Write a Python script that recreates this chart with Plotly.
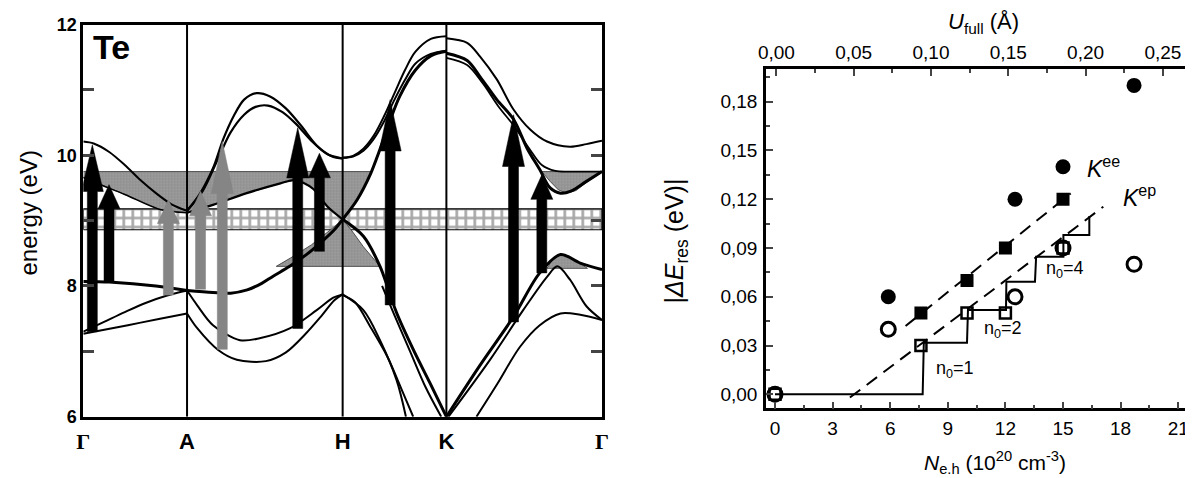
import plotly.graph_objects as go

# ======================= LEFT PANEL DATA (Te band structure) =======================
path_k = [0.0, 1.0, 2.5, 3.5, 5.0]
path_labels = ["Γ", "A", "H", "K", "Γ"]
energy_tickvals = [6, 7, 8, 9, 10, 11, 12]
energy_ticktext = ["6", "", "8", "", "10", "", "12"]

# band lines (k along path, energy in eV)
ga1_k = [0.0, 0.1, 0.25, 0.4, 0.55, 0.7, 0.85, 1.0]
ga1_e = [10.21, 10.18, 10.05, 9.85, 9.62, 9.42, 9.25, 9.15]
gad_k = [0.0, 0.15, 0.4, 0.74, 1.0]
gad_e = [9.66, 9.56, 9.4, 9.17, 9.12]
ga3_k = [0.0, 0.25, 0.7, 1.0]
ga3_e = [8.07, 8.06, 8.0, 7.93]
ga4_k = [0.0, 0.2, 0.4, 0.6, 0.8, 1.0]
ga4_e = [7.3, 7.45, 7.6, 7.74, 7.85, 7.93]
ga5_k = [0.0, 0.43, 0.74, 1.0]
ga5_e = [7.27, 7.40, 7.50, 7.58]

ah1_k = [1.0, 1.12, 1.25, 1.35, 1.45, 1.55, 1.67, 1.8, 1.95, 2.1, 2.25, 2.4, 2.5]
ah1_e = [9.15, 9.4, 9.8, 10.25, 10.6, 10.85, 10.95, 10.9, 10.72, 10.45, 10.15, 9.98, 9.95]
ah2_k = [1.0, 1.15, 1.3, 1.42, 1.55, 1.66, 1.78, 1.92, 2.05, 2.2, 2.35, 2.5]
ah2_e = [9.15, 9.45, 9.95, 10.35, 10.62, 10.74, 10.76, 10.66, 10.48, 10.22, 10.02, 9.95]
ahd_k = [1.0, 1.25, 1.575, 1.9, 2.03, 2.12, 2.22, 2.35, 2.5]
ahd_e = [9.12, 9.24, 9.42, 9.57, 9.62, 9.58, 9.48, 9.22, 9.02]
ah3_k = [1.0, 1.25, 1.42, 1.58, 1.72, 1.83, 1.99, 2.15, 2.3, 2.42, 2.5]
ah3_e = [7.93, 7.9, 7.89, 7.94, 8.04, 8.15, 8.30, 8.48, 8.68, 8.86, 9.02]
ah4_k = [1.0, 1.1, 1.25, 1.51, 1.7, 1.99, 2.25, 2.41, 2.5]
ah4_e = [7.93, 7.7, 7.4, 7.17, 7.2, 7.35, 7.63, 7.82, 7.87]
ah5_k = [1.0, 1.1, 1.3, 1.48, 1.76, 1.95, 2.15, 2.3, 2.42, 2.5]
ah5_e = [7.58, 7.35, 7.02, 6.87, 6.85, 6.98, 7.28, 7.55, 7.78, 7.87]

hk1a_k = [2.5, 2.6, 2.7, 2.8, 2.9, 3.0, 3.1, 3.2, 3.35, 3.5]
hk1a_e = [9.96, 9.99, 10.1, 10.3, 10.6, 10.95, 11.3, 11.58, 11.78, 11.82]
hk1b_k = [2.5, 2.6, 2.7, 2.8, 2.9, 3.0, 3.1, 3.2, 3.35, 3.5]
hk1b_e = [9.96, 9.98, 10.07, 10.25, 10.52, 10.85, 11.15, 11.4, 11.55, 11.6]
hk2_k = [2.5, 2.64, 2.77, 2.85, 2.95, 3.05, 3.2, 3.35, 3.5]
hk2_e = [9.02, 9.32, 9.72, 10.05, 10.5, 10.9, 11.3, 11.52, 11.59]
hk3_k = [2.5, 2.7, 2.86, 2.94, 3.02, 3.18, 3.34, 3.5]
hk3_e = [9.02, 8.76, 8.30, 7.95, 7.59, 7.03, 6.52, 6.0]
hk3b_k = [2.88, 3.0, 3.15, 3.3, 3.45]
hk3b_e = [8.0, 7.55, 7.0, 6.45, 6.0]
hk4_k = [2.5, 2.7, 2.86, 3.02, 3.11]
hk4_e = [7.87, 7.63, 7.17, 6.56, 6.0]
hk5_k = [2.5, 2.62, 2.765, 2.93, 3.07, 3.18]
hk5_e = [7.86, 7.75, 7.38, 6.92, 6.41, 6.0]

kg1_k = [3.5, 3.7, 3.825, 3.986, 4.147, 4.31, 4.47, 4.69, 4.85, 5.0]
kg1_e = [11.79, 11.72, 11.51, 11.16, 10.70, 10.39, 10.21, 10.13, 10.17, 10.22]
kg2_k = [3.5, 3.7, 3.825, 3.986, 4.147, 4.28, 4.4, 4.5, 4.6, 4.7, 4.85, 5.0]
kg2_e = [11.56, 11.45, 11.2, 10.85, 10.55, 10.1, 9.78, 9.5, 9.42, 9.45, 9.6, 9.75]
kg3_k = [3.5, 3.7, 3.85, 4.0, 4.15, 4.3, 4.42, 4.55, 4.7, 5.0]
kg3_e = [11.49, 11.38, 11.1, 10.75, 10.45, 10.1, 9.85, 9.76, 9.75, 9.75]
kg4_k = [3.5, 3.825, 4.147, 4.4, 4.6, 4.79, 5.0]
kg4_e = [6.0, 6.79, 7.53, 8.2, 8.48, 8.35, 8.25]
kg5_k = [3.52, 3.92, 4.24, 4.47, 4.57, 4.69, 4.85, 5.0]
kg5_e = [6.0, 6.87, 7.63, 8.14, 8.30, 8.10, 7.69, 7.48]
kg6_k = [3.79, 3.99, 4.21, 4.40, 4.60, 4.79, 5.0]
kg6_e = [6.0, 6.5, 7.07, 7.40, 7.58, 7.56, 7.48]

# shaded (resonance) regions: outline k / E
shade1_k = [0.0, 2.78, 2.72, 2.64, 2.5, 2.35, 2.22, 2.12, 2.03, 1.9, 1.575, 1.25, 1.0, 0.74, 0.4, 0.15, 0.0]
shade1_e = [9.75, 9.75, 9.55, 9.32, 9.02, 9.22, 9.48, 9.58, 9.62, 9.57, 9.42, 9.24, 9.12, 9.17, 9.4, 9.56, 9.66]
shade2_k = [1.86, 2.0, 2.2, 2.4, 2.5, 2.6, 2.7, 2.8, 2.86, 1.86]
shade2_e = [8.30, 8.43, 8.63, 8.88, 9.02, 8.82, 8.6, 8.42, 8.30, 8.30]
shade3_k = [4.42, 5.0, 5.0, 4.88, 4.75, 4.66, 4.58, 4.5, 4.42]
shade3_e = [9.75, 9.75, 9.74, 9.62, 9.46, 9.42, 9.47, 9.6, 9.75]
shade4_k = [4.47, 4.53, 4.6, 4.68, 4.8, 4.86, 4.47]
shade4_e = [8.27, 8.42, 8.48, 8.45, 8.33, 8.27, 8.27]

# checkered band (gap region)
gap_k = [0.0, 5.0, 5.0, 0.0, 0.0]
gap_e = [8.86, 8.86, 9.18, 9.18, 8.86]

# transition arrows
arrow_k = [0.087, 0.248, 0.82, 1.13, 1.34, 2.067, 2.276, 2.958, 4.147, 4.42]
arrow_from = [7.30, 8.07, 7.86, 7.95, 7.03, 7.35, 8.53, 7.71, 7.45, 8.20]
arrow_to = [10.16, 9.55, 9.32, 9.45, 10.21, 10.42, 10.03, 10.85, 10.62, 9.70]
arrow_gray = [False, False, True, True, True, False, False, False, False, False]

# ======================= RIGHT PANEL DATA =======================
n_filled_circle = [5.9, 12.5, 15.0, 18.7]
de_filled_circle = [0.06, 0.12, 0.14, 0.19]
n_filled_square = [7.6, 10.0, 12.0, 15.0]
de_filled_square = [0.05, 0.07, 0.09, 0.12]
n_open_circle = [0.0, 5.9, 12.5, 15.0, 18.7]
de_open_circle = [0.0, 0.04, 0.06, 0.09, 0.08]
n_open_square = [0.0, 7.6, 10.0, 12.0, 15.0]
de_open_square = [0.0, 0.03, 0.05, 0.05, 0.09]
kee_n = [6.8, 15.4]
kee_de = [0.042, 0.1236]
kep_n = [3.9, 17.1]
kep_de = [-0.002, 0.1154]
stair_n = [0.0, 7.69, 7.75, 10.0, 10.05, 12.03, 12.05, 13.54, 13.6, 15.02, 15.02, 16.37, 16.37]
stair_de = [0.0, 0.0, 0.0317, 0.0317, 0.0518, 0.0518, 0.0693, 0.0693, 0.0846, 0.0846, 0.098, 0.098, 0.1097]

# ======================= FIGURE =======================
FONT = "Liberation Sans, Arial, sans-serif"
PAGE_OFF = 8                      # default body margin of the html page
W, H = 1193 - PAGE_OFF, 478 - PAGE_OFF
fig = go.Figure()


def px_x(p):
    return (p - PAGE_OFF) / W


def px_y(p):
    return (H - (p - PAGE_OFF)) / H


L_X0, L_X1 = 83.3, 602.0
k_per_px = (path_k[-1] - path_k[0]) / (L_X1 - L_X0)


def add_fill(k, e, fillcolor, linecolor, lw=1.0, pattern=None):
    fig.add_trace(go.Scatter(x=k, y=e, mode="lines", fill="toself", fillcolor=fillcolor,
                             fillpattern=pattern, line=dict(color=linecolor, width=lw),
                             hoverinfo="skip", showlegend=False, xaxis="x", yaxis="y"))


add_fill(gap_k, gap_e, "white", "black", 1.2,
         dict(shape="+", fgcolor="#4d4d4d", bgcolor="white", size=9, solidity=0.5))
for sk, se in [(shade1_k, shade1_e), (shade2_k, shade2_e), (shade3_k, shade3_e), (shade4_k, shade4_e)]:
    add_fill(sk, se, "#929292", "#505050", 1.0,
             dict(shape="+", fgcolor="#7a7a7a", bgcolor="#9c9c9c", size=3, solidity=0.35))

bands = [(ga1_k, ga1_e, 2.0), (gad_k, gad_e, 1.5), (ga3_k, ga3_e, 3.0), (ga4_k, ga4_e, 2.0),
         (ga5_k, ga5_e, 2.0), (ah1_k, ah1_e, 2.2), (ah2_k, ah2_e, 2.2), (ahd_k, ahd_e, 2.2),
         (ah3_k, ah3_e, 3.0), (ah4_k, ah4_e, 2.0), (ah5_k, ah5_e, 2.0),
         (hk1a_k, hk1a_e, 2.0), (hk1b_k, hk1b_e, 2.0), (hk2_k, hk2_e, 3.0), (hk3_k, hk3_e, 3.0),
         (hk3b_k, hk3b_e, 2.0), (hk4_k, hk4_e, 2.0), (hk5_k, hk5_e, 2.0),
         (kg1_k, kg1_e, 2.0), (kg2_k, kg2_e, 3.0), (kg3_k, kg3_e, 1.8), (kg4_k, kg4_e, 3.0),
         (kg5_k, kg5_e, 2.0), (kg6_k, kg6_e, 2.0)]
for bk, be, lw in bands:
    fig.add_trace(go.Scatter(x=bk, y=be, mode="lines",
                             line=dict(color="black", width=lw, shape="spline", smoothing=0.9),
                             hoverinfo="skip", showlegend=False, xaxis="x", yaxis="y"))

for kk in path_k[1:-1]:
    fig.add_trace(go.Scatter(x=[kk, kk], y=[energy_tickvals[0], energy_tickvals[-1]], mode="lines",
                             line=dict(color="black", width=2), hoverinfo="skip", showlegend=False,
                             xaxis="x", yaxis="y"))

SHAFT_HALF_PX, HEAD_HALF_PX, HEAD_FRAC = 5.0, 11.0, 0.25
for ak, a0, a1, g in zip(arrow_k, arrow_from, arrow_to, arrow_gray):
    sw = SHAFT_HALF_PX * k_per_px
    hw = HEAD_HALF_PX * k_per_px
    hb = a1 - HEAD_FRAC * (a1 - a0)
    xs = [ak - sw, ak - sw, ak - hw, ak, ak + hw, ak + sw, ak + sw, ak - sw]
    ys = [a0, hb, hb, a1, hb, hb, a0, a0]
    col = "#858585" if g else "black"
    fig.add_trace(go.Scatter(x=xs, y=ys, mode="lines", fill="toself", fillcolor=col,
                             line=dict(color=col, width=0.5), hoverinfo="skip", showlegend=False,
                             xaxis="x", yaxis="y"))

# ---------------- right panel traces ----------------
fig.add_trace(go.Scatter(x=stair_n, y=stair_de, mode="lines", line=dict(color="black", width=2),
                         showlegend=False, xaxis="x2", yaxis="y2"))
fig.add_trace(go.Scatter(x=kee_n, y=kee_de, mode="lines", line=dict(color="black", width=2, dash="13px,8px"),
                         showlegend=False, xaxis="x2", yaxis="y2"))
fig.add_trace(go.Scatter(x=kep_n, y=kep_de, mode="lines", line=dict(color="black", width=2, dash="13px,8px"),
                         showlegend=False, xaxis="x2", yaxis="y2"))
fig.add_trace(go.Scatter(x=n_open_square, y=de_open_square, mode="markers",
                         marker=dict(symbol="square-open", size=11, color="black", line=dict(width=2.5)),
                         showlegend=False, xaxis="x2", yaxis="y2"))
fig.add_trace(go.Scatter(x=n_open_circle, y=de_open_circle, mode="markers",
                         marker=dict(symbol="circle-open", size=14, color="black", line=dict(width=3)),
                         showlegend=False, xaxis="x2", yaxis="y2"))
fig.add_trace(go.Scatter(x=n_filled_square, y=de_filled_square, mode="markers",
                         marker=dict(symbol="square", size=13, color="black"),
                         showlegend=False, xaxis="x2", yaxis="y2"))
fig.add_trace(go.Scatter(x=n_filled_circle, y=de_filled_circle, mode="markers",
                         marker=dict(symbol="circle", size=15, color="black"),
                         showlegend=False, xaxis="x2", yaxis="y2"))
fig.add_trace(go.Scatter(x=[0.1], y=[0.1], mode="markers", marker=dict(opacity=0), hoverinfo="skip",
                         showlegend=False, xaxis="x3", yaxis="y2"))

# ---------------- layout ----------------
lx0, lx1 = px_x(L_X0), px_x(L_X1)
ly0, ly1 = px_y(416.7), px_y(24.5)
rx0, rx1 = px_x(766), 1.0
ry0, ry1 = px_y(408.3), px_y(69)

fig.update_layout(
    width=W, height=H, margin=dict(l=0, r=0, t=0, b=0, autoexpand=False),
    paper_bgcolor="white", plot_bgcolor="white", separators=",.",
    font=dict(family=FONT, color="black"),
    xaxis=dict(domain=[lx0, lx1], range=[path_k[0], path_k[-1]], showgrid=False, zeroline=False,
               automargin=False, tickvals=path_k,
               ticktext=["<span style='font-family:Liberation Serif'>Γ</span>" if t == "Γ" else t
                         for t in path_labels],
               ticks="", tickfont=dict(size=22, family=FONT, weight="bold"), ticklabelstandoff=3,
               showline=True, linecolor="black", linewidth=3, mirror=True),
    yaxis=dict(domain=[ly0, ly1], range=[energy_tickvals[0], energy_tickvals[-1]], showgrid=False,
               zeroline=False, automargin=False, tickvals=energy_tickvals, ticktext=energy_ticktext,
               ticks="inside", ticklen=11, tickwidth=2.5, tickfont=dict(size=18, family=FONT, weight="bold"),
               ticklabelstandoff=0, showline=True, linecolor="black", linewidth=3, mirror="ticks"),
    xaxis2=dict(domain=[rx0, rx1], range=[-0.469, 21.77], anchor="y2", showgrid=False, zeroline=False,
                automargin=False, tick0=0, dtick=3, ticks="inside", ticklen=7, tickwidth=2,
                ticklabelstandoff=1, minor=dict(dtick=1.5, ticks="inside", ticklen=4, tickwidth=1.5),
                tickfont=dict(size=19), showline=True, linecolor="black", linewidth=2.5, mirror=True),
    yaxis2=dict(domain=[ry0, ry1], range=[-0.0086, 0.2001], anchor="x2", showgrid=False, zeroline=False,
                automargin=False, tick0=0, dtick=0.03, tickformat=".2f", ticks="inside", ticklen=7,
                tickwidth=2, minor=dict(dtick=0.015, ticks="inside", ticklen=4, tickwidth=1.5),
                ticklabelstandoff=2, tickfont=dict(size=19),
                showline=True, linecolor="black", linewidth=2.5, mirror="ticks"),
    xaxis3=dict(overlaying="x2", side="top", anchor="y2", range=[-0.00673, 0.2695], showgrid=False,
                automargin=False, zeroline=False, tick0=0, dtick=0.05, tickformat=".2f", ticks="inside",
                ticklen=7, tickwidth=2, minor=dict(dtick=0.025, ticks="inside", ticklen=4, tickwidth=1.5),
                ticklabelstandoff=5, tickfont=dict(size=19), showline=False),
)

C = dict(xanchor="center", yanchor="middle", showarrow=False)
ann = [
    dict(text="<b>Te</b>", x=0.274, y=11.65, xref="x", yref="y", font=dict(size=34, family=FONT), **C),
    dict(text="energy (eV)", x=px_x(27.5), y=px_y(213), xref="paper", yref="paper",
         textangle=-90, font=dict(size=24, family=FONT), **C),
    dict(text="<i>N</i><sub>e.h</sub> (10<sup>20</sup> cm<sup>-3</sup>)", x=px_x(995), y=px_y(462),
         xref="paper", yref="paper", font=dict(size=21), **C),
    dict(text="<i>U</i><sub>full</sub> (Å)", x=px_x(983), y=px_y(23),
         xref="paper", yref="paper", font=dict(size=22), **C),
    dict(text="|<i>ΔE</i><sub>res</sub> (eV)|", x=px_x(675), y=px_y(241.5),
         xref="paper", yref="paper", textangle=-90, font=dict(size=25), **C),
    dict(text="n<sub>0</sub>=1", x=9.4, y=0.015, xref="x2", yref="y2", font=dict(size=18), **C),
    dict(text="n<sub>0</sub>=2", x=11.9, y=0.040, xref="x2", yref="y2", font=dict(size=18), **C),
    dict(text="n<sub>0</sub>=4", x=15.1, y=0.077, xref="x2", yref="y2", font=dict(size=18), **C),
    dict(text="<i>K</i><sup>ee</sup>", x=17.1, y=0.140, xref="x2", yref="y2", font=dict(size=23), **C),
    dict(text="<i>K</i><sup>ep</sup>", x=19.0, y=0.122, xref="x2", yref="y2", font=dict(size=23), **C),
]
fig.update_layout(annotations=ann)

fig.write_html("out.html")
